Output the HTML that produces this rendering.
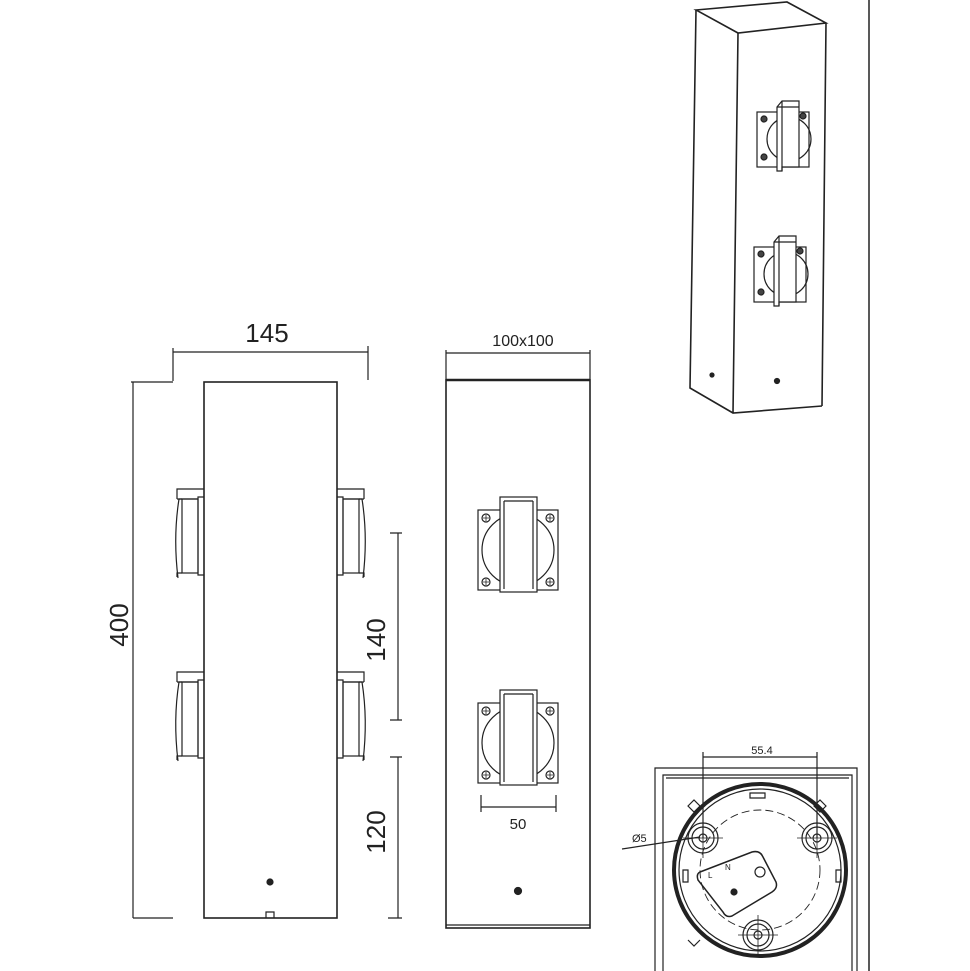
<!DOCTYPE html>
<html><head><meta charset="utf-8"><style>
html,body{margin:0;padding:0;background:#fff;width:970px;height:971px;overflow:hidden}
svg{display:block}
text{font-family:"Liberation Sans",Arial,sans-serif;fill:#222}
</style></head><body>
<svg width="970" height="971" viewBox="0 0 970 971" xmlns="http://www.w3.org/2000/svg" fill="none" stroke="#222" stroke-width="1.2">
<defs>
 <g id="sideL">
  <path d="M0,2 H27 V12 M6,12 H27"/>
  <path d="M0,10 H6 V88 H0"/>
  <rect x="6" y="12" width="16" height="74"/>
  <path d="M22,12 H25 M22,86 H27 V90 M25,12 Q31,50 26,91"/>
 </g>
 <g id="sock">
  <rect x="0" y="13" width="80" height="80"/>
  <circle cx="40" cy="53" r="36"/>
  <rect x="22" y="0" width="37" height="95" fill="#fff"/>
  <path d="M26,4 V92 M55,4 V92 M26,4 H55"/>
  <circle cx="8" cy="21" r="4"/><circle cx="72" cy="21" r="4"/>
  <circle cx="8" cy="85" r="4"/><circle cx="72" cy="85" r="4"/>
  <path d="M5,21h6M8,18v6M69,21h6M72,18v6M5,85h6M8,82v6M69,85h6M72,82v6" stroke-width="0.8"/>
 </g>
 <g id="isock">
  <rect x="0" y="13" width="52" height="55"/>
  <circle cx="32" cy="40" r="22"/>
  <path d="M20,8 L25,2 H42 V68 H25 V72 H20 Z" fill="#fff"/>
  <path d="M25,2 V8 M20,8 H42 M25,8 V72"/>
  <circle cx="7" cy="20" r="3" fill="#444"/><circle cx="7" cy="58" r="3" fill="#444"/><circle cx="46" cy="17" r="3" fill="#444"/>
 </g>
</defs>

<!-- LEFT VIEW -->
<text x="267" y="342" font-size="26" text-anchor="middle" stroke="none">145</text>
<path d="M173,352 H368 M173,348 V381 M368,346 V380 M131,382 H173 M133,382 V918 M133,918 H173 M173,349v6 M368,349v6"/>
<text transform="translate(128,625) rotate(-90)" font-size="26" text-anchor="middle" stroke="none">400</text>
<rect x="204" y="382" width="133" height="536" stroke-width="1.6"/>
<path d="M266,918 V912 H274 V918"/>
<circle cx="270" cy="882" r="3" fill="#222"/>
<use href="#sideL" transform="translate(204,487) scale(-1,1)"/>
<use href="#sideL" transform="translate(204,670) scale(-1,1)"/>
<use href="#sideL" transform="translate(337,487)"/>
<use href="#sideL" transform="translate(337,670)"/>
<path d="M398,533 V720 M390,533 H402 M390,720 H402 M398,757 V918 M390,757 H402 M388,918 H402"/>
<text transform="translate(385,640) rotate(-90)" font-size="26" text-anchor="middle" stroke="none">140</text>
<text transform="translate(385,832) rotate(-90)" font-size="26" text-anchor="middle" stroke="none">120</text>

<!-- MIDDLE VIEW -->
<text x="523" y="346" font-size="16" text-anchor="middle" stroke="none">100x100</text>
<path d="M446,353 H590 M446,350 V380 M590,350 V380"/>
<rect x="446" y="380" width="144" height="548" stroke-width="1.6"/>
<path d="M446,380 H590" stroke-width="2.5"/>
<path d="M446,925 H590"/>
<use href="#sock" transform="translate(478,497)"/>
<use href="#sock" transform="translate(478,690)"/>
<path d="M481,795 V812 M556,795 V812 M481,807 H556"/>
<text x="518" y="829" font-size="15" text-anchor="middle" stroke="none">50</text>
<circle cx="518" cy="891" r="3.5" fill="#222"/>

<!-- ISO VIEW -->
<g stroke-width="1.6">
<path d="M696,10 L787,2 L826,23 L738,33 Z"/>
<path d="M738,33 L733,413 M826,23 L822,406 M696,10 L690,388 L733,413 L822,406"/>
</g>
<use href="#isock" transform="translate(757,99)"/>
<use href="#isock" transform="translate(754,234)"/>
<circle cx="712" cy="375" r="2" fill="#222"/><circle cx="777" cy="381" r="2.5" fill="#222"/>
<path d="M869,0 V971" stroke-width="1.5"/>

<!-- BOTTOM VIEW -->
<text x="762" y="754" font-size="11" text-anchor="middle" stroke="none">55.4</text>
<path d="M703,757 H817 M703,752 V838 M817,752 V838"/>
<path d="M655,971 V768 H857 V971 M663,971 V775 H852 V971 M666,778 H849"/>
<circle cx="760" cy="870" r="86" stroke-width="4"/>
<circle cx="760" cy="870" r="81"/>
<circle cx="760" cy="870" r="60" stroke-dasharray="8,4" stroke-width="0.9"/>
<g>
<circle cx="703" cy="838" r="15"/><circle cx="703" cy="838" r="11"/><circle cx="703" cy="838" r="4"/>
<circle cx="817" cy="838" r="15"/><circle cx="817" cy="838" r="11"/><circle cx="817" cy="838" r="4"/>
<circle cx="758" cy="935" r="15"/><circle cx="758" cy="935" r="11"/><circle cx="758" cy="935" r="4"/>
<path d="M683,838h40M703,818v40M797,838h40M817,818v40M738,935h40M758,915v40" stroke-width="0.8"/>
</g>
<path d="M622,849 L700,837"/>
<text x="632" y="842" font-size="11" stroke="none">Ø5</text>
<path d="M700,872 L752,852 Q760,850 763,857 L776,882 Q778,888 772,892 L732,916 Q726,918 723,912 L698,880 Q696,874 700,872 Z" stroke-width="1.5"/>
<circle cx="760" cy="872" r="5"/>
<circle cx="734" cy="892" r="3" fill="#222"/>
<text x="708" y="878" font-size="8" stroke="none">L</text>
<text x="725" y="870" font-size="8" stroke="none">N</text>
<path d="M750,793 h15 v5 h-15z M688,806 l6,-6 l6,6 l-6,6z M826,806 l-6,-6 l-6,6 l6,6z M683,870 h5 v12 h-5z M836,870 h5 v12 h-5z M688,940 l6,6 l6,-6"/>
</svg>
</body></html>
